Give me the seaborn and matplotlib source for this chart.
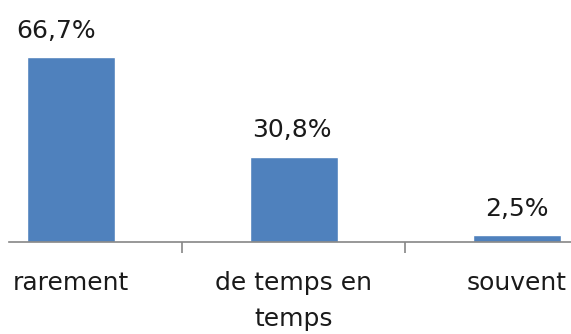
import matplotlib
matplotlib.use("Agg")
import matplotlib.pyplot as plt
import seaborn as sns
import pandas as pd

categories = ["rarement", "de temps en\ntemps", "souvent"]
values = [66.7, 30.8, 2.5]
value_labels = ["66,7%", "30,8%", "2,5%"]

sns.set_theme(style="white")
plt.rcParams["font.family"] = ["DejaVu Sans"]

df = pd.DataFrame({"categorie": categories, "pourcentage": values})

W, H = 571, 334
fig = plt.figure(figsize=(W / 100, H / 100), dpi=100)
# axes span from -0.5 to 2.5 in category units; the left/right parts fall off the canvas
left_px, right_px = -40.5, 628.5
base_px = 242
ax = fig.add_axes([left_px / W, (H - base_px) / H, (right_px - left_px) / W, base_px / H])

sns.barplot(data=df, x="categorie", y="pourcentage", color="#4F81BD",
            saturation=1, width=0.395, ax=ax)

ax.set_xlim(-0.5, 2.5)
ax.set_ylim(0, 87.2)

# label above each bar; the first one sits a little to the left
label_dx = [-11, -1.5, 0]
for i, (v, lab) in enumerate(zip(values, value_labels)):
    ax.annotate(lab, (i, v), xytext=(label_dx[i], 13.7), textcoords="offset points",
                ha="center", va="baseline", fontsize=18, color="#1a1a1a")

for s in ["top", "right", "left"]:
    ax.spines[s].set_visible(False)
ax.spines["bottom"].set_color("#868686")
ax.spines["bottom"].set_linewidth(1.2)
ax.spines["bottom"].set_bounds(-0.278, 2.5)

ax.set_yticks([])
ax.set_xlabel("")
ax.set_ylabel("")
ax.set_xticks([0, 1, 2])
ax.set_xticklabels(categories, fontsize=18, color="#1a1a1a", linespacing=1.6)
ax.tick_params(axis="x", which="major", length=0, pad=21, bottom=True)
ax.set_xticks([0.5, 1.5], minor=True)
ax.tick_params(axis="x", which="minor", length=8, width=1.2, color="#868686",
               direction="out", bottom=True)

fig.savefig("out.png", dpi=100)
